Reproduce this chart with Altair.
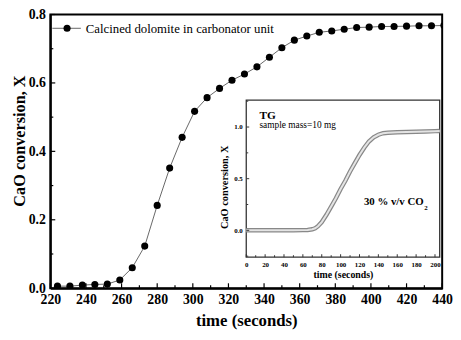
import altair as alt
import pandas as pd

# ---------------- data ----------------
TIME = [224, 231, 238, 245, 252, 259, 266, 273, 280, 287, 294, 301, 308, 315, 322, 329,
        336, 343, 350, 357, 364, 371, 378, 385, 392, 399, 406, 413, 420, 427, 434, 441]
CONVERSION = [0.006, 0.006, 0.009, 0.011, 0.012, 0.024, 0.060, 0.123, 0.242, 0.351, 0.441,
              0.517, 0.557, 0.584, 0.608, 0.626, 0.647, 0.675, 0.703, 0.725, 0.737, 0.748,
              0.752, 0.757, 0.762, 0.763, 0.765, 0.765, 0.766, 0.767, 0.767, 0.768]
LEGEND_LABEL = "Calcined dolomite in carbonator unit"

X_LABELS = list(range(220, 441, 20))
X_MINOR = list(range(230, 431, 20))
Y_LABELS = [0.0, 0.2, 0.4, 0.6, 0.8]
Y_MINOR = [0.1, 0.3, 0.5, 0.7]

TG_TIME = [0, 10, 20, 30, 40, 50, 60, 65, 70, 73, 76, 80, 85, 90, 95, 100, 105, 110, 115,
           120, 125, 130, 135, 140, 145, 150, 160, 170, 180, 190, 200, 205]
TG_CONV = [0.0, 0.0, 0.0, 0.0, 0.0, 0.0, 0.002, 0.004, 0.01, 0.02, 0.04, 0.08, 0.15, 0.23,
           0.31, 0.40, 0.48, 0.57, 0.65, 0.73, 0.80, 0.86, 0.90, 0.925, 0.94, 0.945, 0.95,
           0.952, 0.955, 0.957, 0.96, 0.962]
TG_X_LABELS = list(range(0, 201, 20))
TG_X_MINOR = list(range(10, 200, 20))
TG_Y_LABELS = [0.0, 0.5, 1.0]
TG_Y_MINOR = [-0.25, 0.25, 0.75, 1.25]

# ---------------- layout / style ----------------
W, H = 398, 278
SERIF = "Liberation Serif"
IN_L, IN_R, IN_T, IN_B = 199, 395.5, 87, 246.5

# ---------------- main chart ----------------
xs = alt.Scale(domain=[220, 440], nice=False, zero=False)
ys = alt.Scale(domain=[0, 0.8], nice=False)
X_AX = alt.Axis(title="time (seconds)", values=X_LABELS, format="d", ticks=False,
                labelFont=SERIF, labelFontWeight="bold", labelFontSize=14, labelColor="black",
                labelPadding=5, domainColor="black", domainWidth=2,
                titleFont=SERIF, titleFontWeight="bold", titleFontSize=17, titleColor="black",
                titlePadding=6, labelFlush=False)
Y_AX = alt.Axis(title="CaO conversion, X", values=Y_LABELS, format=".1f", ticks=False,
                labelFont=SERIF, labelFontWeight="bold", labelFontSize=14, labelColor="black",
                labelPadding=5, domainColor="black", domainWidth=2,
                titleFont=SERIF, titleFontWeight="bold", titleFontSize=16.5, titleColor="black",
                titlePadding=1, titleY=128, labelFlush=False)
X_ENC = alt.X("t:Q", scale=xs, axis=X_AX)
Y_ENC = alt.Y("x:Q", scale=ys, axis=Y_AX)

main_df = pd.DataFrame({"t": TIME, "x": CONVERSION})
main_line = alt.Chart(main_df).mark_line(color="#555", strokeWidth=0.9, clip=True).encode(x=X_ENC, y=Y_ENC)
main_pts = alt.Chart(main_df).mark_circle(color="black", size=52, opacity=1, clip=True).encode(x=X_ENC, y=Y_ENC)

xmaj = alt.Chart(pd.DataFrame({"t": X_LABELS})).mark_rule(color="black", strokeWidth=1.2).encode(
    x=X_ENC, y=alt.value(H), y2=alt.value(H - 5))
xmin = alt.Chart(pd.DataFrame({"t": X_MINOR})).mark_rule(color="black", strokeWidth=1.2).encode(
    x=X_ENC, y=alt.value(H), y2=alt.value(H - 3))
ymaj = alt.Chart(pd.DataFrame({"x": Y_LABELS})).mark_rule(color="black", strokeWidth=1.2).encode(
    y=Y_ENC, x=alt.value(0), x2=alt.value(5))
ymin = alt.Chart(pd.DataFrame({"x": Y_MINOR})).mark_rule(color="black", strokeWidth=1.2).encode(
    y=Y_ENC, x=alt.value(0), x2=alt.value(3))

leg_df = pd.DataFrame({"label": [LEGEND_LABEL]})
leg_line = alt.Chart(leg_df).mark_rule(color="#555", strokeWidth=0.9).encode(
    x=alt.value(2), x2=alt.value(31), y=alt.value(14))
leg_dot = alt.Chart(leg_df).mark_circle(color="black", size=52, opacity=1).encode(
    x=alt.value(17), y=alt.value(14))
leg_text = alt.Chart(leg_df).mark_text(font=SERIF, fontSize=13, color="black", align="left",
                                       baseline="middle").encode(
    x=alt.value(36), y=alt.value(15), text="label:N")

main = alt.layer(main_line, main_pts, xmaj, xmin, ymaj, ymin, leg_line, leg_dot, leg_text)

# ---------------- inset ----------------
ixs = alt.Scale(domain=[0, 205], range=[IN_L, IN_R], nice=False, zero=False)
iys = alt.Scale(domain=[-0.26, 1.26], range=[IN_B, IN_T], nice=False, zero=False)
IX_AX = alt.Axis(title="time (seconds)", values=TG_X_LABELS, format="d", ticks=False, domain=False,
                 orient="bottom", offset=-(H - IN_B), labelFlush=False,
                 labelFont=SERIF, labelFontWeight="bold", labelFontSize=7, labelColor="black",
                 labelPadding=3, titleFont=SERIF, titleFontWeight="bold", titleFontSize=10,
                 titleColor="black", titlePadding=3)
IY_AX = alt.Axis(title="CaO conversion, X", values=TG_Y_LABELS, format=".1f", ticks=False,
                 domain=False, orient="left", offset=-IN_L, labelFlush=False,
                 labelFont=SERIF, labelFontWeight="bold", labelFontSize=7, labelColor="black",
                 labelPadding=4, titleFont=SERIF, titleFontWeight="bold", titleFontSize=10.5,
                 titleColor="black", titlePadding=4, titleY=175)
IX_ENC = alt.X("ti:Q", scale=ixs, axis=IX_AX)
IY_ENC = alt.Y("xi:Q", scale=iys, axis=IY_AX)

frame = alt.Chart(pd.DataFrame({"a": [0]})).mark_rect(fill="white", stroke="#333", strokeWidth=1.3).encode(
    x=alt.value(IN_L), x2=alt.value(IN_R), y=alt.value(IN_T), y2=alt.value(IN_B))

tg_df = pd.DataFrame({"ti": TG_TIME, "xi": TG_CONV})
tg_outer = alt.Chart(tg_df).mark_line(color="#888", strokeWidth=4.5, clip=True).encode(x=IX_ENC, y=IY_ENC)
tg_inner = alt.Chart(tg_df).mark_line(color="#e4e4e4", strokeWidth=2, clip=True).encode(x=IX_ENC, y=IY_ENC)

ixmaj = alt.Chart(pd.DataFrame({"ti": TG_X_LABELS})).mark_rule(color="#333", strokeWidth=1).encode(
    x=IX_ENC, y=alt.value(IN_B), y2=alt.value(IN_B - 3))
ixmin = alt.Chart(pd.DataFrame({"ti": TG_X_MINOR})).mark_rule(color="#333", strokeWidth=1).encode(
    x=IX_ENC, y=alt.value(IN_B), y2=alt.value(IN_B - 2))
iymaj = alt.Chart(pd.DataFrame({"xi": TG_Y_LABELS})).mark_rule(color="#333", strokeWidth=1).encode(
    y=IY_ENC, x=alt.value(IN_L), x2=alt.value(IN_L + 3))
iymin = alt.Chart(pd.DataFrame({"xi": TG_Y_MINOR})).mark_rule(color="#333", strokeWidth=1).encode(
    y=IY_ENC, x=alt.value(IN_L), x2=alt.value(IN_L + 2))

ann_df = pd.DataFrame({
    "ti": [14, 14, 188, 188.5],
    "xi": [1.11, 1.02, 0.27, 0.215],
    "txt": ["TG", "sample mass=10 mg", "30 % v/v CO", "2"],
})
ann_tg = alt.Chart(ann_df.iloc[[0]]).mark_text(font=SERIF, fontWeight="bold", fontSize=11.5,
                                               color="black", align="left", baseline="middle").encode(
    x=IX_ENC, y=IY_ENC, text="txt:N")
ann_mass = alt.Chart(ann_df.iloc[[1]]).mark_text(font=SERIF, fontSize=9.5, color="black",
                                                 align="left", baseline="middle").encode(
    x=IX_ENC, y=IY_ENC, text="txt:N")
ann_co = alt.Chart(ann_df.iloc[[2]]).mark_text(font=SERIF, fontWeight="bold", fontSize=11,
                                               color="black", align="right", baseline="middle").encode(
    x=IX_ENC, y=IY_ENC, text="txt:N")
ann_sub = alt.Chart(ann_df.iloc[[3]]).mark_text(font=SERIF, fontWeight="bold", fontSize=7,
                                                color="black", align="left", baseline="middle").encode(
    x=IX_ENC, y=IY_ENC, text="txt:N")

inset = alt.layer(frame, tg_outer, tg_inner, ixmaj, ixmin, iymaj, iymin,
                  ann_tg, ann_mass, ann_co, ann_sub)

chart = alt.layer(main, inset).resolve_scale(x="independent", y="independent").properties(
    width=W, height=H,
    autosize=alt.AutoSizeParams(type="none"),
    padding={"left": 43, "top": 4, "right": 11, "bottom": 50},
    background="white",
).configure_view(stroke="black", strokeWidth=2).configure_axis(grid=False)

chart.save("out.html", embed_options={"renderer": "svg", "actions": False})
